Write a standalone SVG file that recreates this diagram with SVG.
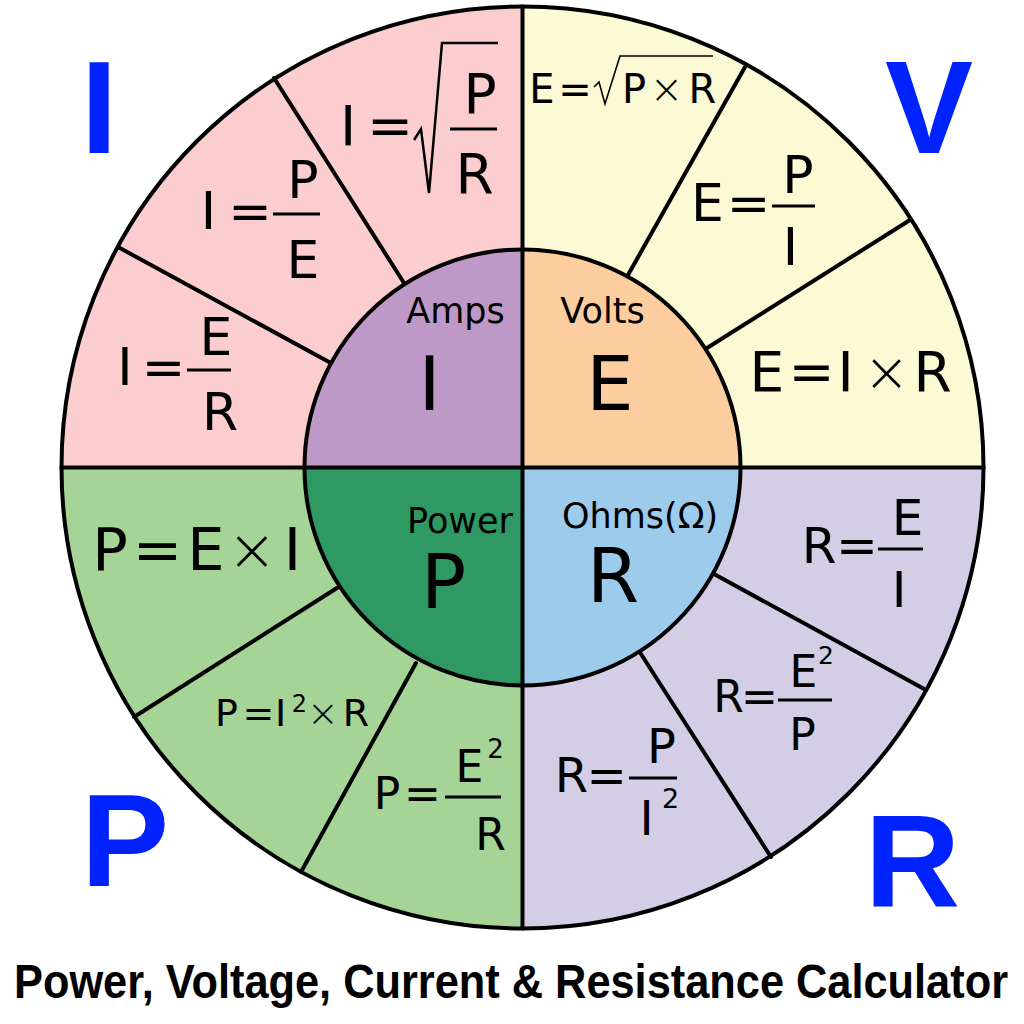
<svg xmlns="http://www.w3.org/2000/svg" width="1024" height="1024" viewBox="0 0 1024 1024">
<style>
.f{font-family:"DejaVu Sans","Liberation Sans",sans-serif;fill:#000;text-anchor:middle}
.big{font-family:"Liberation Sans",Arial,sans-serif;font-weight:bold;fill:#0022FF;text-anchor:middle;font-size:132px}
.ln{stroke:#000;stroke-width:4;fill:none;stroke-linecap:round}
.bar{stroke:#000;stroke-width:3}
.rad{stroke:#000;fill:none;stroke-linejoin:miter}
</style>
<rect width="1024" height="1024" fill="#fff"/>
<g id="wheel">
<path d="M522.5,467.5 L61.5,467.5 A461,461 0 0 1 522.5,6.5 Z" fill="#FBCDCF"/>
<path d="M522.5,467.5 L522.5,6.5 A461,461 0 0 1 983.5,467.5 Z" fill="#FCF9D5"/>
<path d="M522.5,467.5 L983.5,467.5 A461,461 0 0 1 522.5,928.5 Z" fill="#D3CEE6"/>
<path d="M522.5,467.5 L522.5,928.5 A461,461 0 0 1 61.5,467.5 Z" fill="#A6D396"/>
<path d="M522.5,467.5 L304.5,467.5 A218,218 0 0 1 522.5,249.5 Z" fill="#BE99C8"/>
<path d="M522.5,467.5 L522.5,249.5 A218,218 0 0 1 740.5,467.5 Z" fill="#FCCD9E"/>
<path d="M522.5,467.5 L740.5,467.5 A218,218 0 0 1 522.5,685.5 Z" fill="#9DCBEC"/>
<path d="M522.5,467.5 L522.5,685.5 A218,218 0 0 1 304.5,467.5 Z" fill="#2E9963"/>
</g>
<g id="connectors">
<line class="ln" x1="118" y1="247" x2="329" y2="362"/>
<line class="ln" x1="274" y1="78" x2="404" y2="283"/>
<line class="ln" x1="745" y1="67" x2="628" y2="275"/>
<line class="ln" x1="910" y1="220" x2="707" y2="348"/>
<line class="ln" x1="337" y1="588" x2="134" y2="717"/>
<line class="ln" x1="416" y1="663" x2="301" y2="872"/>
<line class="ln" x1="714" y1="574" x2="926" y2="690"/>
<line class="ln" x1="641" y1="654" x2="771" y2="857"/>
<line class="ln" x1="61.5" y1="467.5" x2="983.5" y2="467.5"/>
<line class="ln" x1="522.5" y1="6.5" x2="522.5" y2="928.5"/>
<circle class="ln" cx="522.5" cy="467.5" r="218"/>
<circle class="ln" cx="522.5" cy="467.5" r="461"/>
</g>
<g id="node-amps">
<text class="f" x="455.5" y="323" font-size="35">Amps</text>
<text class="f" x="429.5" y="410" font-size="75">I</text>
</g>
<g id="node-volts">
<text class="f" x="602.5" y="323" font-size="35">Volts</text>
<text class="f" x="610" y="410" font-size="75">E</text>
</g>
<g id="node-power">
<text class="f" x="460" y="533" font-size="35">Power</text>
<text class="f" x="443.5" y="608" font-size="75">P</text>
</g>
<g id="node-ohms">
<text class="f" x="640" y="528" font-size="35">Ohms(Ω)</text>
<text class="f" x="613" y="602" font-size="75">R</text>
</g>
<g id="f-i-sqrt" class="f" font-size="55">
<text x="348" y="145">I</text>
<text x="390" y="145">=</text>
<path class="rad" stroke-width="2.5" d="M414,140 L421,129 L429,193 L442,43 L498,43"/>
<line class="bar" x1="450" y1="129" x2="497" y2="129"/>
<text x="480" y="113">P</text>
<text x="474.5" y="193">R</text>
</g>
<g id="f-i-pe" class="f" font-size="52">
<text x="208.5" y="229">I</text>
<text x="250" y="229">=</text>
<line class="bar" x1="273" y1="214" x2="320" y2="214"/>
<text x="303" y="198">P</text>
<text x="303" y="278">E</text>
</g>
<g id="f-i-er" class="f" font-size="52">
<text x="125" y="385">I</text>
<text x="163.5" y="385">=</text>
<line class="bar" x1="187" y1="370" x2="231" y2="370"/>
<text x="216" y="355">E</text>
<text x="220" y="430">R</text>
</g>
<g id="f-e-sqrt" class="f" font-size="40">
<text x="542" y="103">E</text>
<text x="575" y="103">=</text>
<path class="rad" stroke-width="1.6" d="M594,87 L599,82 L605,104 L620,56 L713,56"/>
<text x="634" y="103">P</text>
<text x="666.5" y="103" font-weight="300">×</text>
<text x="702.5" y="103">R</text>
</g>
<g id="f-e-pi" class="f" font-size="52">
<text x="707.5" y="221">E</text>
<text x="748.5" y="221">=</text>
<line class="bar" x1="772" y1="206" x2="815" y2="206"/>
<text x="798" y="193">P</text>
<text x="790.5" y="265">I</text>
</g>
<g id="f-e-ir" class="f" font-size="55">
<text x="767" y="391">E</text>
<text x="811.5" y="391">=</text>
<text x="845.5" y="391">I</text>
<text x="886.5" y="391" font-weight="300">×</text>
<text x="932.5" y="391">R</text>
</g>
<g id="f-p-ei" class="f" font-size="59">
<text x="110" y="570">P</text>
<text x="157.5" y="570">=</text>
<text x="206" y="570">E</text>
<text x="252" y="570" font-weight="300">×</text>
<text x="292.5" y="570">I</text>
</g>
<g id="f-p-i2r" class="f" font-size="38">
<text x="226.5" y="726">P</text>
<text x="258.5" y="726">=</text>
<text x="280.5" y="726">I</text>
<text x="299.5" y="712" font-size="24">2</text>
<text x="323" y="726" font-weight="300">×</text>
<text x="356" y="726">R</text>
</g>
<g id="f-p-e2r" class="f" font-size="44">
<text x="387" y="809">P</text>
<text x="422.5" y="809">=</text>
<line class="bar" x1="445" y1="797" x2="501" y2="797"/>
<text x="469.5" y="782">E</text>
<text x="495.5" y="758" font-size="26">2</text>
<text x="490.5" y="850">R</text>
</g>
<g id="f-r-ei" class="f" font-size="50">
<text x="819" y="563">R</text>
<text x="857" y="563">=</text>
<line class="bar" x1="878" y1="549" x2="923" y2="549"/>
<text x="907.5" y="535">E</text>
<text x="899" y="607">I</text>
</g>
<g id="f-r-e2p" class="f" font-size="44">
<text x="728.5" y="712">R</text>
<text x="759.5" y="712">=</text>
<line class="bar" x1="778" y1="700" x2="832" y2="700"/>
<text x="803.5" y="687">E</text>
<text x="826" y="664" font-size="25">2</text>
<text x="802.5" y="750">P</text>
</g>
<g id="f-r-pi2" class="f" font-size="48">
<text x="571.5" y="792">R</text>
<text x="606.5" y="792">=</text>
<line class="bar" x1="629" y1="778" x2="677" y2="778"/>
<text x="661.5" y="763">P</text>
<text x="646.5" y="835">I</text>
<text x="670.5" y="808" font-size="27">2</text>
</g>
<g id="corner-labels">
<text class="big" x="99" y="153">I</text>
<text class="big" x="929" y="153">V</text>
<text class="big" x="125" y="886">P</text>
<text class="big" x="912.5" y="906">R</text>
</g>
<g id="title">
<text x="14" y="998" font-family="'Liberation Sans Narrow','Liberation Sans',Arial,sans-serif" font-weight="bold" font-size="48" textLength="994" lengthAdjust="spacingAndGlyphs">Power, Voltage, Current &amp; Resistance Calculator</text>
</g>
</svg>
